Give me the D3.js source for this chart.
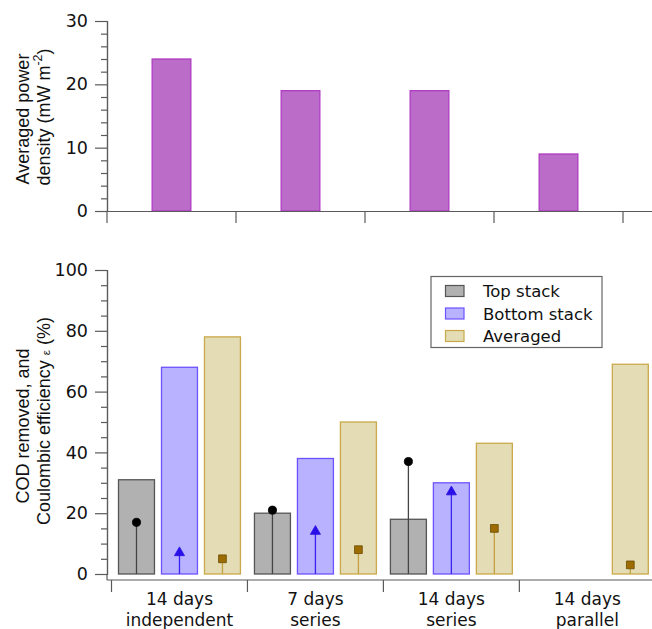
<!DOCTYPE html>
<html>
<head>
<meta charset="utf-8">
<script src="https://cdn.jsdelivr.net/npm/d3@7"></script>
<style>
  html, body { margin: 0; padding: 0; background: #fff; }
  svg { display: block; }
</style>
</head>
<body>
<svg id="chart" width="652" height="629"></svg>
<script>
// ---------- data ----------
const categoriesTop = ["c1", "c2", "c3", "c4"];
const powerDensity = [24, 19, 19, 9];
const topTicks = [0, 10, 20, 30];

const categoryLine1 = ["14 days", "7 days", "14 days", "14 days"];
const categoryLine2 = ["independent", "series", "series", "parallel"];
const seriesNames = ["Top stack", "Bottom stack", "Averaged"];
const codTop = [31, 20, 18, null];
const codBottom = [68, 38, 30, null];
const codAveraged = [78, 50, 43, 69];
const ceTop = [17, 21, 37, null];
const ceBottom = [7, 14, 27, null];
const ceAveraged = [5, 8, 15, 3];
const bottomTicks = [0, 20, 40, 60, 80, 100];

// ---------- styles ----------
const seriesFill = ["#b1b1b1", "#b8b2ff", "#e3dcb4"];
const seriesStroke = ["#555555", "#6d52ff", "#c9a94a"];
const markerFill = ["#000000", "#2a10e6", "#9c6c00"];
const markerStroke = ["#000000", "#2a10e6", "#6a4a00"];
const dropColor = ["#444444", "#3a22f0", "#c4a040"];
const axisColor = "#5a5a5a";
const tickFont = "'DejaVu Sans', sans-serif";
const titleFont = "'Liberation Sans', Arial, sans-serif";

const svg = d3.select("#chart");

// ================= TOP PANEL =================
const yTop = d3.scaleLinear().domain([0, 30]).range([211, 21]);
const xTop = d3.scaleBand().domain(categoriesTop).range([107, 623]).padding(0);

const gTop = svg.append("g");
gTop.selectAll("rect.pd").data(powerDensity).join("rect")
  .attr("class", "pd")
  .attr("x", (d, i) => xTop(categoriesTop[i]) + xTop.bandwidth() * 0.35)
  .attr("width", xTop.bandwidth() * 0.3)
  .attr("y", d => yTop(d))
  .attr("height", d => yTop(0) - yTop(d))
  .attr("fill", "#bb6cc8")
  .attr("stroke", "#b03cc2")
  .attr("stroke-width", 1.3);

gTop.append("g").attr("transform", "translate(107,0)")
  .call(d3.axisLeft(yTop).tickValues(topTicks).tickSize(12).tickPadding(7).tickFormat(d3.format("d")));
gTop.append("g").attr("transform", "translate(107,0)")
  .call(d3.axisLeft(yTop).tickValues(d3.range(0, 31, 2).filter(v => v % 10 !== 0)).tickSize(6).tickFormat(""));
gTop.append("line").attr("x1", 107).attr("x2", 652).attr("y1", 211.5).attr("y2", 211.5)
  .attr("stroke", axisColor).attr("stroke-width", 1.2);
gTop.selectAll("line.ctick").data(categoriesTop.concat(["end"])).join("line")
  .attr("class", "ctick")
  .attr("x1", (d, i) => 107 + i * xTop.step()).attr("x2", (d, i) => 107 + i * xTop.step())
  .attr("y1", 211.5).attr("y2", 223)
  .attr("stroke", axisColor).attr("stroke-width", 1.2);

const tt = gTop.append("g").attr("font-family", titleFont).attr("font-size", 18).attr("fill", "#111");
tt.append("text").attr("transform", "translate(28.5,119) rotate(-90)").attr("text-anchor", "middle")
  .text("Averaged power");
const t2 = tt.append("text").attr("transform", "translate(50,117) rotate(-90)").attr("text-anchor", "middle");
t2.append("tspan").text("density (mW m");
t2.append("tspan").attr("font-size", 12.5).attr("dy", -8).text("-2");
t2.append("tspan").attr("dy", 8).text(")");

// ================= BOTTOM PANEL =================
const yBot = d3.scaleLinear().domain([0, 100]).range([574, 270]);
const x0 = d3.scaleBand().domain(d3.range(4)).range([111.5, 655.3]).padding(0);
const x1 = d3.scaleBand().domain(d3.range(3)).range([0, x0.bandwidth()]).padding(0.163);

const codSeries = [codTop, codBottom, codAveraged];
const ceSeries = [ceTop, ceBottom, ceAveraged];

const gBot = svg.append("g");
const barData = [];
const markData = [];
codSeries.forEach((arr, s) => arr.forEach((v, c) => {
  if (v !== null) barData.push({ s, c, v });
}));
ceSeries.forEach((arr, s) => arr.forEach((v, c) => {
  if (v !== null) markData.push({ s, c, v });
}));

gBot.selectAll("rect.cod").data(barData).join("rect")
  .attr("class", "cod")
  .attr("x", d => x0(d.c) + x1(d.s))
  .attr("width", x1.bandwidth())
  .attr("y", d => yBot(d.v))
  .attr("height", d => yBot(0) - yBot(d.v))
  .attr("fill", d => seriesFill[d.s])
  .attr("stroke", d => seriesStroke[d.s])
  .attr("stroke-width", 1.3);

const cx = d => x0(d.c) + x1(d.s) + x1.bandwidth() / 2;

gBot.selectAll("line.drop").data(markData).join("line")
  .attr("class", "drop")
  .attr("x1", cx).attr("x2", cx)
  .attr("y1", yBot(0)).attr("y2", d => yBot(d.v))
  .attr("stroke", d => dropColor[d.s]).attr("stroke-width", 1.3);

const symTypes = [d3.symbolCircle, d3.symbolTriangle, d3.symbolSquare];
const symSizes = [52, 44, 60];
gBot.selectAll("path.mark").data(markData).join("path")
  .attr("class", "mark")
  .attr("transform", d => `translate(${cx(d)},${yBot(d.v)})`)
  .attr("d", d => d3.symbol().type(symTypes[d.s]).size(symSizes[d.s])())
  .attr("fill", d => markerFill[d.s])
  .attr("stroke", d => markerStroke[d.s])
  .attr("stroke-width", 0.8);

gBot.append("g").attr("transform", "translate(107,0)")
  .call(d3.axisLeft(yBot).tickValues(bottomTicks).tickSize(12).tickPadding(7).tickFormat(d3.format("d")));
gBot.append("g").attr("transform", "translate(107,0)")
  .call(d3.axisLeft(yBot).tickValues(d3.range(0, 101, 5).filter(v => v % 20 !== 0)).tickSize(6).tickFormat(""));
gBot.append("line").attr("x1", 107).attr("x2", 107).attr("y1", 574).attr("y2", 580)
  .attr("stroke", axisColor).attr("stroke-width", 1.2);
gBot.append("line").attr("x1", 107).attr("x2", 652).attr("y1", 580).attr("y2", 580)
  .attr("stroke", axisColor).attr("stroke-width", 1.2);
gBot.selectAll("line.ctick").data(d3.range(5)).join("line")
  .attr("class", "ctick")
  .attr("x1", i => 111.5 + i * x0.step()).attr("x2", i => 111.5 + i * x0.step())
  .attr("y1", 580).attr("y2", 592)
  .attr("stroke", axisColor).attr("stroke-width", 1.2);
const cl = gBot.append("g").attr("font-family", tickFont).attr("font-size", 17).attr("fill", "#111")
  .attr("text-anchor", "middle");
categoryLine1.forEach((t, i) => {
  const xc = x0(i) + x0.bandwidth() / 2;
  cl.append("text").attr("x", xc).attr("y", 605).text(t);
  cl.append("text").attr("x", xc).attr("y", 626).text(categoryLine2[i]);
});

const bt = gBot.append("g").attr("font-family", titleFont).attr("font-size", 18).attr("fill", "#111");
bt.append("text").attr("transform", "translate(28.5,426) rotate(-90)").attr("text-anchor", "middle")
  .text("COD removed, and");
const b2 = bt.append("text").attr("transform", "translate(50,421) rotate(-90)").attr("text-anchor", "middle");
b2.append("tspan").text("Coulombic efficiency ");
b2.append("tspan").attr("font-size", 11.5).text("ε");
b2.append("tspan").text(" (%)");

// legend
const lg = gBot.append("g");
lg.append("rect").attr("x", 431).attr("y", 276.5).attr("width", 171).attr("height", 71)
  .attr("fill", "#fff").attr("stroke", "#666").attr("stroke-width", 1.2);
seriesNames.forEach((n, i) => {
  const cy = 291 + i * 22.5;
  lg.append("rect").attr("x", 445.5).attr("y", cy - 5.5).attr("width", 18.5).attr("height", 11)
    .attr("fill", seriesFill[i]).attr("stroke", seriesStroke[i]).attr("stroke-width", 1.2);
  lg.append("text").attr("x", 483).attr("y", cy + 6).attr("font-family", tickFont)
    .attr("font-size", 16.5).attr("fill", "#111").text(n);
});

svg.selectAll(".domain").attr("stroke", axisColor).attr("stroke-width", 1.2);
svg.selectAll(".tick line").attr("stroke", axisColor).attr("stroke-width", 1.2);
svg.selectAll(".tick text").attr("font-family", tickFont).attr("font-size", 17.5).attr("fill", "#111");
</script>
</body>
</html>
